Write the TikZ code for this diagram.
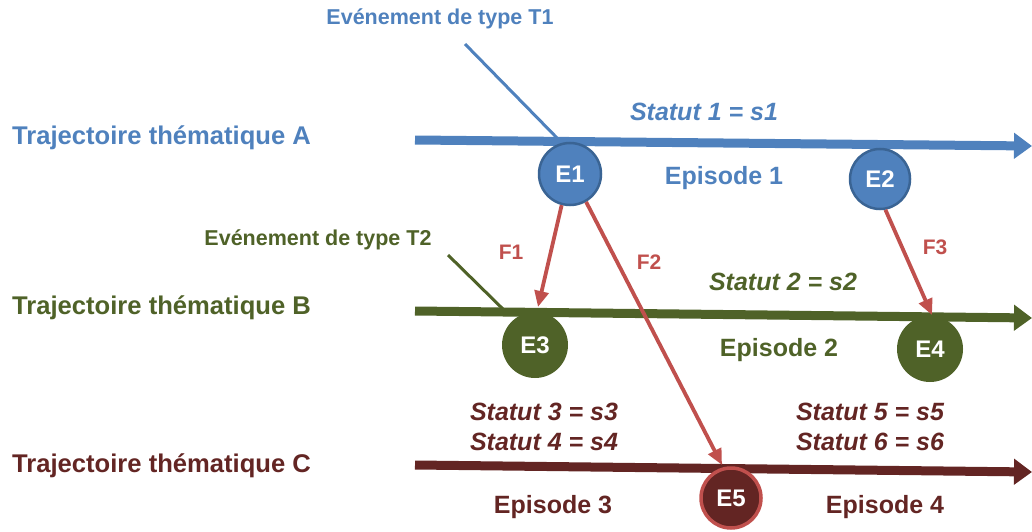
\documentclass[tikz,border=0pt]{standalone}
\usepackage{fontspec}
\setmainfont{Liberation Sans}
\usetikzlibrary{arrows.meta}
\definecolor{cblue}{HTML}{4F81BD}
\definecolor{cbluedk}{HTML}{3A6494}
\definecolor{cgreen}{HTML}{4F6228}
\definecolor{cdred}{HTML}{632523}
\definecolor{cred}{HTML}{C0504D}
\tikzset{
  traj/.style={line width=9pt,-{Triangle[length=18pt,width=25pt]}},
  ev/.style={circle,minimum size=#1,inner sep=0pt,font=\fontsize{24}{26}\selectfont\bfseries,text=white},
  lab/.style={font=\fontsize{25.6}{30}\selectfont\bfseries,inner sep=0pt},
  big/.style={font=\fontsize{25}{28}\selectfont\bfseries,inner sep=0pt},
  bigit/.style={font=\fontsize{25}{28}\selectfont\bfseries\itshape,inner sep=0pt},
  small/.style={font=\fontsize{21.5}{24}\selectfont\bfseries,inner sep=0pt},
  flow/.style={draw=cred,line width=3.8pt,-{Triangle[length=16pt,width=14pt]}},
  flab/.style={font=\fontsize{21}{24}\selectfont\bfseries,text=cred,inner sep=0pt},
  pointer/.style={line width=3pt}
}
\begin{document}
\begin{tikzpicture}[x=1pt,y=-1pt]
\useasboundingbox (0,0) rectangle (1032,532);
% trajectories
\coordinate (a0) at (415,140); \coordinate (a1) at (1032,146);
\coordinate (b0) at (415,311); \coordinate (b1) at (1032,318);
\coordinate (c0) at (415,465); \coordinate (c1) at (1032,472);
\draw[traj,cblue] (a0) -- (a1);
\draw[traj,cgreen] (b0) -- (b1);
\draw[traj,cdred] (c0) -- (c1);
% left labels
\node[lab,text=cblue,anchor=west] (la) at (12,138) {Trajectoire thématique A};
\node[lab,text=cgreen,anchor=west] (lb) at (12,308) {Trajectoire thématique B};
\node[lab,text=cdred,anchor=west] (lc) at (12,466) {Trajectoire thématique C};
% event type labels
\node[small,text=cblue] (t1) at (440,19) {Evénement de type T1};
\node[small,text=cgreen] (t2) at (318,240) {Evénement de type T2};
\coordinate (t1s) at (465,44); \coordinate (t1e) at (560,141);
\coordinate (t2s) at (448,255); \coordinate (t2e) at (508,314);
\draw[pointer,cblue] (t1s) -- (t1e);
\draw[pointer,cgreen] (t2s) -- (t2e);
% events
\node[ev=62pt,fill=cblue,draw=cbluedk,line width=2.5pt] (e1) at (570,174) {E1};
\node[ev=60pt,fill=cblue,draw=cbluedk,line width=2.5pt] (e2) at (880,179) {E2};
\node[ev=66pt,fill=cgreen] (e3) at (535,345) {E3};
\node[ev=66pt,fill=cgreen] (e4) at (930,349) {E4};
\node[ev=60pt,fill=cdred,draw=cred,line width=3.5pt] (e5) at (731,498) {E5};
% flows
\coordinate (f1e) at (538,307);
\coordinate (f3e) at (932,315);
\coordinate (f2e) at (722,465);
\draw[flow] (e1.-105) -- (f1e);
\draw[flow] (e1.-60) -- (f2e);
\draw[flow] (e2.-80) -- (f3e);
\node[flab] (lf1) at (511,252) {F1};
\node[flab] (lf2) at (649,262) {F2};
\node[flab] (lf3) at (935,247) {F3};
% statuses and episodes
\node[bigit,text=cblue] (s1) at (704,112) {Statut 1 = s1};
\node[big,text=cblue] (ep1) at (724,178) {Episode 1};
\node[bigit,text=cgreen] (s2) at (783,282) {Statut 2 = s2};
\node[big,text=cgreen] (ep2) at (779,350) {Episode 2};
\node[bigit,text=cdred] (s3) at (544,412) {Statut 3 = s3};
\node[bigit,text=cdred] (s4) at (544,442) {Statut 4 = s4};
\node[bigit,text=cdred] (s5) at (870,412) {Statut 5 = s5};
\node[bigit,text=cdred] (s6) at (870,442) {Statut 6 = s6};
\node[big,text=cdred] (ep3) at (553,507) {Episode 3};
\node[big,text=cdred] (ep4) at (885,507) {Episode 4};
\end{tikzpicture}
\end{document}
